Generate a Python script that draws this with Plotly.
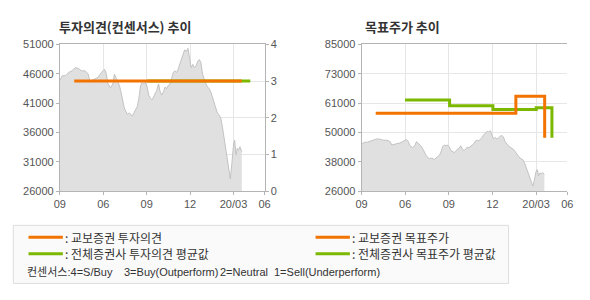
import plotly.graph_objects as go

# ---- data ----
x_tick_labels = ["09", "06", "09", "12", "20/03", "06"]
x_tick_months = [0, 3, 6, 9, 12, 14.15]

price_month = [0, 0.16, 0.38, 0.61, 0.84, 1.06, 1.29, 1.51, 1.74, 1.96, 2.08, 2.19, 2.42, 2.64,
               2.87, 3.09, 3.21, 3.32, 3.50, 3.66, 3.77, 3.88, 4.00, 4.11, 4.22, 4.33, 4.45,
               4.56, 4.67, 4.79, 4.90, 5.01, 5.12, 5.24, 5.35, 5.46, 5.58, 5.69, 5.80, 5.91,
               6.03, 6.14, 6.25, 6.37, 6.48, 6.59, 6.70, 6.82, 6.93, 7.04, 7.16, 7.27, 7.38,
               7.49, 7.61, 7.72, 7.83, 7.95, 8.06, 8.17, 8.28, 8.40, 8.51, 8.62, 8.74, 8.85,
               8.96, 9.07, 9.19, 9.30, 9.41, 9.53, 9.64, 9.75, 9.86, 9.98, 10.09, 10.20, 10.32,
               10.43, 10.54, 10.65, 10.77, 10.88, 10.99, 11.11, 11.22, 11.33, 11.44, 11.56,
               11.67, 11.78, 11.85, 11.94, 12.01, 12.08, 12.17, 12.26, 12.35, 12.44, 12.53, 12.57]
price_value = [44850, 45670, 45670, 46220, 46500, 47050, 46880, 46500, 46500, 45950, 44570, 44850,
               45120, 45400, 46220, 46770, 45950, 44300, 43580, 44300, 45950, 45400, 44570, 44020,
               42920, 41270, 40170, 39630, 39080, 39350, 39080, 38800, 39350, 39900, 40450, 41830,
               44020, 44570, 44300, 44570, 43750, 42370, 41830, 41550, 42100, 42920, 43200, 44300,
               42920, 42370, 42920, 43750, 43480, 44020, 44300, 45120, 46220, 46500, 46220, 46770,
               47600, 48700, 49520, 50070, 49800, 50340, 48700, 47050, 47600, 47050, 47330, 48150,
               48420, 47880, 45950, 44850, 44300, 43750, 43480, 42920, 42100, 41270, 40170, 39350,
               39080, 38530, 37150, 35500, 33580, 31660, 29740, 28090, 29740, 32480, 34130, 34680,
               32210, 33310, 33030, 33580, 33030, 32760]

# investment opinion (right axis, 0-4)
kyobo_opinion_month = [0.99, 12.57]
kyobo_opinion_value = [3, 3]
avg_opinion_month = [6.03, 13.16]
avg_opinion_value = [3, 3]

# target prices (step lines)
kyobo_target_month = [0.97, 10.61, 12.59, 12.59]
kyobo_target_value = [57300, 64200, 64200, 47500]
avg_target_month = [2.98, 6.05, 9.03, 12.01, 13.09, 13.09]
avg_target_value = [62700, 60400, 58900, 59600, 59600, 47500]

left_price_ticks = [26000, 31000, 36000, 41000, 46000, 51000]
right_price_ticklabels = ["26000", "38000", "50000", "61000", "73000", "85000"]

# ---- style ----
W, H = 590, 300
ORANGE = "#F27300"
GREEN = "#7CB800"
AREA_FILL = "#E0E0E0"
AREA_LINE = "#C2C2C2"
GRID = "#E6E6E6"
AXIS = "#B4B4B4"
TICKFONT = dict(family="Liberation Sans, Arial, sans-serif", size=11, color="#555555")
KFONT = "Noto Sans CJK KR, sans-serif"


def px(x):
    return x / W


def py(y):
    return 1 - y / H


fig = go.Figure()

# left chart
fig.add_trace(go.Scatter(x=price_month, y=price_value, xaxis="x", yaxis="y", mode="lines",
                         fill="tozeroy", fillcolor=AREA_FILL,
                         line=dict(color=AREA_LINE, width=1), hoverinfo="skip"))
fig.add_trace(go.Scatter(x=avg_opinion_month, y=avg_opinion_value, xaxis="x", yaxis="y2",
                         mode="lines", line=dict(color=GREEN, width=3), hoverinfo="skip"))
fig.add_trace(go.Scatter(x=kyobo_opinion_month, y=kyobo_opinion_value, xaxis="x", yaxis="y2",
                         mode="lines", line=dict(color=ORANGE, width=3), hoverinfo="skip"))

# right chart
fig.add_trace(go.Scatter(x=price_month, y=price_value, xaxis="x2", yaxis="y3", mode="lines",
                         fill="tozeroy", fillcolor=AREA_FILL,
                         line=dict(color=AREA_LINE, width=1), hoverinfo="skip"))
fig.add_trace(go.Scatter(x=avg_target_month, y=avg_target_value, xaxis="x2", yaxis="y3",
                         mode="lines", line=dict(color=GREEN, width=3, shape="hv"),
                         hoverinfo="skip"))
fig.add_trace(go.Scatter(x=kyobo_target_month, y=kyobo_target_value, xaxis="x2", yaxis="y3",
                         mode="lines", line=dict(color=ORANGE, width=3, shape="hv"),
                         hoverinfo="skip"))

x_range = [0, x_tick_months[-1]]
xcommon = dict(range=x_range, tickvals=x_tick_months, ticktext=x_tick_labels,
               showgrid=True, gridcolor=GRID, gridwidth=1, zeroline=False,
               showline=True, linecolor=AXIS, linewidth=1, mirror=True,
               ticks="outside", ticklen=3, tickcolor=AXIS, tickfont=TICKFONT, fixedrange=True)

n = len(right_price_ticklabels)
r_lo, r_hi = 26000, 85000
right_tickvals = [r_lo + (r_hi - r_lo) * i / (n - 1) for i in range(n)]

fig.update_layout(
    width=W, height=H, autosize=False,
    margin=dict(l=0, r=0, t=0, b=0),
    paper_bgcolor="white", plot_bgcolor="white",
    showlegend=False,
    xaxis=dict(domain=[px(55), px(264)], anchor="y", **xcommon),
    yaxis=dict(domain=[py(193), py(40)], anchor="x", range=[26000, 51000],
               tickvals=left_price_ticks, ticktext=[str(v) for v in left_price_ticks],
               showgrid=False, zeroline=False,
               showline=True, linecolor=AXIS, linewidth=1,
               ticks="outside", ticklen=3, tickcolor=AXIS, tickfont=TICKFONT, fixedrange=True),
    yaxis2=dict(overlaying="y", side="right", anchor="x", range=[0, 4], dtick=1,
                showgrid=True, gridcolor=GRID, zeroline=False,
                showline=True, linecolor=AXIS, linewidth=1,
                ticks="outside", ticklen=3, tickcolor=AXIS, tickfont=TICKFONT, fixedrange=True),
    xaxis2=dict(domain=[px(363), px(573)], anchor="y3", **xcommon),
    yaxis3=dict(domain=[py(193), py(40)], anchor="x2", range=[r_lo, r_hi],
                tickvals=right_tickvals, ticktext=right_price_ticklabels,
                showgrid=True, gridcolor=GRID, zeroline=False,
                showline=True, linecolor=AXIS, linewidth=1,
                ticks="outside", ticklen=3, tickcolor=AXIS, tickfont=TICKFONT, fixedrange=True),
)

# titles
fig.add_annotation(x=px(52), y=py(21), xref="paper", yref="paper", xanchor="left",
                   yanchor="middle", showarrow=False, text="<b>투자의견(컨센서스) 추이</b>",
                   font=dict(family=KFONT, size=13, color="#333333"))
fig.add_annotation(x=px(364), y=py(21), xref="paper", yref="paper", xanchor="left",
                   yanchor="middle", showarrow=False, text="<b>목표주가 추이</b>",
                   font=dict(family=KFONT, size=13, color="#333333"))

# legend box
fig.add_shape(type="rect", xref="paper", yref="paper", x0=px(7.5), x1=px(513), y0=py(289),
              y1=py(228.5), line=dict(color="#DDDDDD", width=1), fillcolor="#FAFAFA",
              layer="below")

legend_items = [
    (23, 241, ORANGE, ": 교보증권 투자의견"),
    (23, 258, GREEN, ": 전체증권사 투자의견 평균값"),
    (316, 241, ORANGE, ": 교보증권 목표주가"),
    (316, 258, GREEN, ": 전체증권사 목표주가 평균값"),
]
LFONT = dict(family=KFONT, size=12, color="#333333")
for x0, y0, col, label in legend_items:
    fig.add_shape(type="line", xref="paper", yref="paper", x0=px(x0), x1=px(x0 + 35),
                  y0=py(y0), y1=py(y0), line=dict(color=col, width=3))
    fig.add_annotation(x=px(x0 + 36), y=py(y0), xref="paper", yref="paper", xanchor="left",
                       yanchor="middle", showarrow=False, text=label, font=LFONT,
                       borderpad=0)

CFONT = dict(family="Liberation Sans, Noto Sans CJK KR, sans-serif", size=11, color="#333333")
consensus_parts = [(20, "컨센서스:4=S/Buy"), (119, "3=Buy(Outperform)"),
                   (217, "2=Neutral"), (273, "1=Sell(Underperform)")]
for x0, label in consensus_parts:
    fig.add_annotation(x=px(x0), y=py(277), xref="paper", yref="paper", xanchor="left",
                       yanchor="middle", showarrow=False, text=label, font=CFONT,
                       borderpad=0)

fig.write_html("out.html", config={"displayModeBar": False, "staticPlot": True})
